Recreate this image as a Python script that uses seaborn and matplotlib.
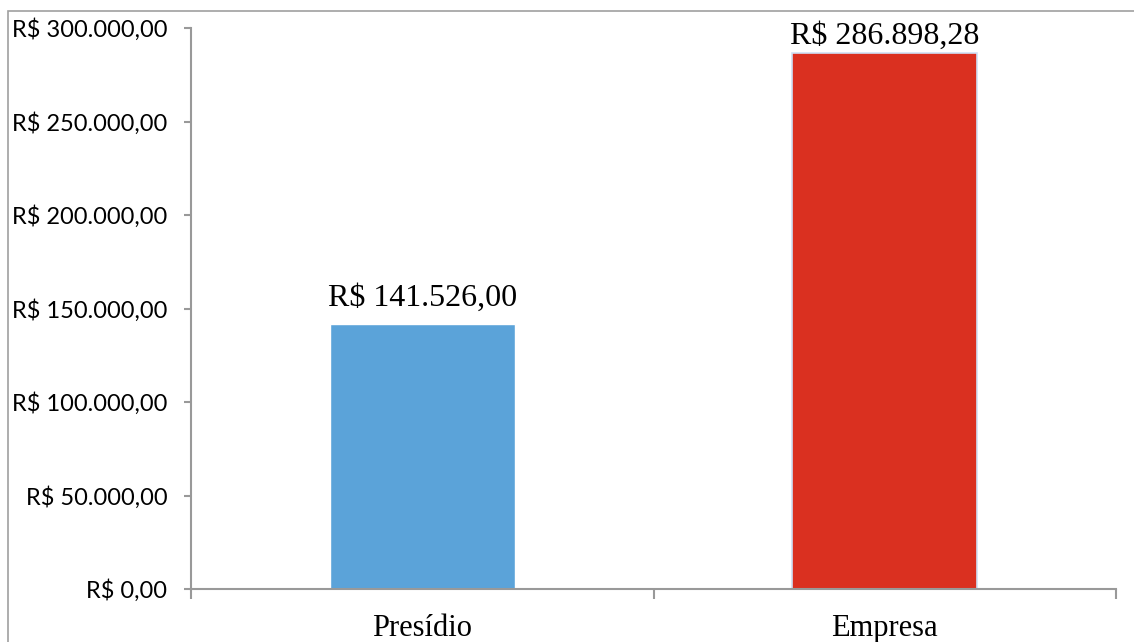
import matplotlib
matplotlib.use('Agg')
import matplotlib.pyplot as plt
import seaborn as sns
import pandas as pd
from matplotlib.patches import Rectangle

# Data
categorias = ['Presídio', 'Empresa']
custos = [141526.00, 286898.28]
cores = ['#5BA3D9', '#DA3020']
rotulos = ['R$ 141.526,00', 'R$ 286.898,28']
yticks = [0, 50000, 100000, 150000, 200000, 250000, 300000]
ytick_labels = ['R$ 0,00', 'R$ 50.000,00', 'R$ 100.000,00', 'R$ 150.000,00',
                'R$ 200.000,00', 'R$ 250.000,00', 'R$ 300.000,00']

df = pd.DataFrame({'categoria': categorias, 'custo': custos})

sns.set_style('white')
fig = plt.figure(figsize=(11.34, 6.42), dpi=100)
ax = fig.add_axes([191 / 1134, 53 / 642, 925 / 1134, 561 / 642])

sns.barplot(data=df, x='categoria', y='custo', hue='categoria', palette=cores,
            width=0.4, saturation=1, legend=False, ax=ax)

# light glow around the red bar
ax.patches[1].set_edgecolor('#CFE0F5')
ax.patches[1].set_linewidth(1.2)

ax.set_ylim(0, 300000)
ax.set_xlim(-0.5, 1.5)
ax.set_yticks(yticks)
ax.set_yticklabels(ytick_labels, family='Lato', fontsize=17, color='black')
ax.set_xticks(range(len(categorias)))
ax.set_xticklabels(categorias, family='Liberation Serif', fontsize=22, color='black')
ax.set_xticks([-0.5, 0.5, 1.5], minor=True)
ax.tick_params(axis='x', which='major', bottom=False, length=0, pad=18)
ax.tick_params(axis='x', which='minor', bottom=True, length=7, width=1.5, color='#999999')
ax.tick_params(axis='y', left=True, length=5, width=1.5, color='#999999', pad=12)
ax.set_xlabel('')
ax.set_ylabel('')

for s in ['top', 'right']:
    ax.spines[s].set_visible(False)
for s in ['left', 'bottom']:
    ax.spines[s].set_color('#999999')
    ax.spines[s].set_linewidth(1.5)

# value labels
offsets = [8, 1]
for i, (v, txt) in enumerate(zip(custos, rotulos)):
    ax.annotate(txt, xy=(i, v), xytext=(0, offsets[i]), textcoords='offset points',
                ha='center', va='bottom', family='Liberation Serif', fontsize=23,
                color='black')

# outer chart border
fig.patches.append(Rectangle((8 / 1134, -0.1), 1.2, (642 - 11) / 642 + 0.1,
                             transform=fig.transFigure, fill=False,
                             edgecolor='#A0A0A0', linewidth=1.2))

fig.savefig('out.png', dpi=100)
